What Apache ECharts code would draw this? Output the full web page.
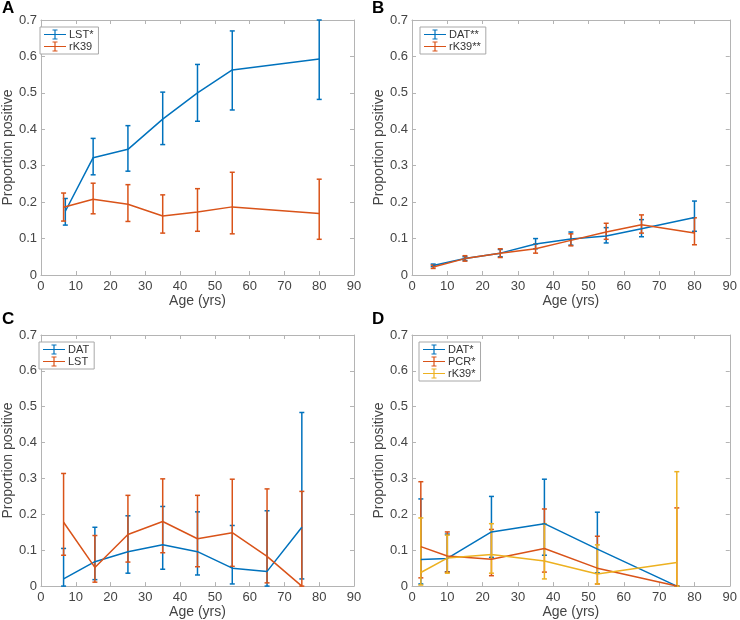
<!DOCTYPE html>
<html><head><meta charset="utf-8">
<script src="https://cdn.jsdelivr.net/npm/echarts@6/dist/echarts.min.js"></script>
<style>html,body{margin:0;padding:0;background:#fff}#c{width:740px;height:620px}</style>
</head><body><div id="c"></div>
<script>
// ---------- Data ----------
const xTicks = [0,10,20,30,40,50,60,70,80,90];
const yTicks = [0,0.1,0.2,0.3,0.4,0.5,0.6,0.7];

// Panel A
const aLST_x    = [7,15,25,35,45,55,80];
const aLST_mean = [0.175,0.322,0.345,0.428,0.500,0.563,0.593];
const aLST_lo   = [0.137,0.275,0.285,0.358,0.422,0.453,0.482];
const aLST_hi   = [0.210,0.375,0.410,0.502,0.578,0.670,0.700];
const aRK_x     = [6.5,15,25,35,45,55,80];
const aRK_mean  = [0.186,0.208,0.194,0.162,0.173,0.187,0.169];
const aRK_lo    = [0.148,0.168,0.147,0.115,0.120,0.113,0.098];
const aRK_hi    = [0.225,0.252,0.248,0.220,0.237,0.282,0.263];

// Panel B
const bX        = [6,15,25,35,45,55,65,80];
const bDAT_mean = [0.026,0.045,0.060,0.085,0.099,0.107,0.127,0.158];
const bDAT_lo   = [0.023,0.040,0.050,0.072,0.082,0.088,0.105,0.120];
const bDAT_hi   = [0.030,0.050,0.070,0.100,0.118,0.130,0.152,0.203];
const bRK_mean  = [0.022,0.045,0.060,0.072,0.095,0.118,0.138,0.115];
const bRK_lo    = [0.018,0.038,0.048,0.060,0.080,0.098,0.115,0.083];
const bRK_hi    = [0.027,0.053,0.072,0.085,0.113,0.142,0.165,0.157];

// Panel C
const cX        = [6.5,15.5,25,35,45,55,65,75];
const cDAT_mean = [0.020,0.068,0.096,0.115,0.096,0.050,0.041,0.164];
const cDAT_lo   = [0.000,0.018,0.036,0.047,0.031,0.006,0.000,0.020];
const cDAT_hi   = [0.105,0.164,0.196,0.222,0.207,0.169,0.210,0.484];
const cLST_mean = [0.178,0.052,0.144,0.180,0.132,0.149,0.083,0.000];
const cLST_lo   = [0.086,0.011,0.067,0.093,0.054,0.055,0.009,0.000];
const cLST_hi   = [0.314,0.141,0.253,0.299,0.253,0.298,0.271,0.264];

// Panel D
const dX        = [2.5,10,22.5,37.5,52.5,75];
const dDAT_mean = [0.074,0.077,0.151,0.174,0.103,0.000];
const dDAT_lo   = [0.006,0.040,0.080,0.086,0.037,0.000];
const dDAT_hi   = [0.243,0.145,0.250,0.298,0.206,0.000];
const dPCR_mean = [0.110,0.084,0.075,0.105,0.050,0.000];
const dPCR_lo   = [0.023,0.039,0.029,0.039,0.006,0.000];
const dPCR_hi   = [0.291,0.151,0.158,0.215,0.139,0.218];
const dRK_mean  = [0.038,0.078,0.088,0.070,0.034,0.066];
const dRK_lo    = [0.003,0.036,0.036,0.020,0.006,0.000];
const dRK_hi    = [0.190,0.142,0.174,0.174,0.115,0.319];

// ---------- Styling ----------
const BLUE = '#0072BD', ORANGE = '#D95319', YELLOW = '#EDB120';
const FONT = '"Liberation Sans", Arial, Helvetica, sans-serif';
const AXC = '#b4b4b4', LBL = '#444444';
const ICON = 'path://M0,4.4H22V5.6H0Z M10.4,0H11.6V10H10.4Z M8.5,0H13.5V1H8.5Z M8.5,9H13.5V10H8.5Z';

const grids = [
  {left:32,  top:20,  width:322, height:255},
  {left:412, top:20,  width:321, height:255},
  {left:32,  top:335, width:322, height:254},
  {left:412, top:335, width:322, height:254}
];

const xAxes = [], yAxes = [];
for (let g = 0; g < 4; g++) {
  xAxes.push({
    type:'value', gridIndex:g, min:xTicks[0], max:xTicks[xTicks.length-1], interval:10,
    name:'Age (yrs)', nameLocation:'middle', nameGap:15,
    nameTextStyle:{fontFamily:FONT, fontSize:14, color:LBL},
    axisLine:{show:true, onZero:false, lineStyle:{color:AXC, width:1}},
    axisTick:{show:true, inside:true, length:4, lineStyle:{color:AXC}},
    axisLabel:{fontFamily:FONT, fontSize:13, color:LBL, margin:5},
    splitLine:{show:false}
  });
  yAxes.push({
    type:'value', gridIndex:g, min:yTicks[0], max:yTicks[yTicks.length-1], interval:0.1,
    name:'Proportion positive', nameLocation:'middle', nameGap:21,
    nameTextStyle:{fontFamily:FONT, fontSize:14, color:LBL},
    axisLine:{show:true, onZero:false, lineStyle:{color:AXC, width:1}},
    axisTick:{show:true, inside:true, length:4, lineStyle:{color:AXC}},
    axisLabel:{fontFamily:FONT, fontSize:13, color:LBL, margin:4},
    splitLine:{show:false}
  });
}
for (let g = 0; g < 4; g++) {
  xAxes.push({
    type:'value', gridIndex:g, position:'top', min:0, max:90, interval:10,
    axisLine:{show:true, onZero:false, lineStyle:{color:AXC, width:1}},
    axisTick:{show:true, inside:true, length:4, lineStyle:{color:AXC}},
    axisLabel:{show:false}, splitLine:{show:false}
  });
  yAxes.push({
    type:'value', gridIndex:g, position:'right', min:0, max:0.7, interval:0.1,
    axisLine:{show:true, onZero:false, lineStyle:{color:AXC, width:1}},
    axisTick:{show:true, inside:true, length:4, lineStyle:{color:AXC}},
    axisLabel:{show:false}, splitLine:{show:false}
  });
}

const series = [];
function addSet(g, name, color, xs, mean, lo, hi) {
  series.push({
    type:'line', name:name, xAxisIndex:g, yAxisIndex:g,
    data: xs.map((x,i)=>[x, mean[i]]),
    showSymbol:false, symbol:'none', lineStyle:{color:color, width:1.5},
    itemStyle:{color:color}, animation:false, z:3
  });
  series.push({
    type:'custom', name:name, xAxisIndex:g, yAxisIndex:g,
    data: xs.map((x,i)=>[x, lo[i], hi[i]]),
    encode:{x:0, y:[1,2]},
    renderItem:function(params, api){
      const x = api.value(0);
      const p1 = api.coord([x, api.value(1)]);
      const p2 = api.coord([x, api.value(2)]);
      const w = 2.5;
      const st = {stroke:color, lineWidth:1.5, fill:null};
      return {type:'group', children:[
        {type:'line', shape:{x1:p1[0], y1:p1[1], x2:p2[0], y2:p2[1]}, style:st},
        {type:'line', shape:{x1:p1[0]-w, y1:p1[1], x2:p1[0]+w, y2:p1[1]}, style:st},
        {type:'line', shape:{x1:p2[0]-w, y1:p2[1], x2:p2[0]+w, y2:p2[1]}, style:st}
      ]};
    },
    animation:false, z:3
  });
}
addSet(0, 'LST*',   BLUE,   aLST_x, aLST_mean, aLST_lo, aLST_hi);
addSet(0, 'rK39',   ORANGE, aRK_x,  aRK_mean,  aRK_lo,  aRK_hi);
addSet(1, 'DAT**',  BLUE,   bX, bDAT_mean, bDAT_lo, bDAT_hi);
addSet(1, 'rK39**', ORANGE, bX, bRK_mean,  bRK_lo,  bRK_hi);
addSet(2, 'DAT',    BLUE,   cX, cDAT_mean, cDAT_lo, cDAT_hi);
addSet(2, 'LST',    ORANGE, cX, cLST_mean, cLST_lo, cLST_hi);
addSet(3, 'DAT*',   BLUE,   dX, dDAT_mean, dDAT_lo, dDAT_hi);
addSet(3, 'PCR*',   ORANGE, dX, dPCR_mean, dPCR_lo, dPCR_hi);
addSet(3, 'rK39*',  YELLOW, dX, dRK_mean,  dRK_lo,  dRK_hi);

function mkLegend(names, left, top) {
  return {
    data: names.map(n=>({name:n, icon:ICON})),
    left:left, top:top, orient:'vertical', itemGap:1,
    itemWidth:22, itemHeight:10, padding:[2,5,2,4],
    borderColor:'#a8a8a8', borderWidth:1, backgroundColor:'#fff',
    selectedMode:false,
    textStyle:{fontFamily:FONT, fontSize:11, color:'#333', padding:[0,0,0,-2]}
  };
}

const titles = [
  {text:'A', left:2, top:0},
  {text:'B', left:372, top:0},
  {text:'C', left:2, top:311},
  {text:'D', left:372, top:311}
].map(t=>Object.assign(t, {padding:0, textStyle:{fontFamily:FONT, fontSize:17, fontWeight:'bold', color:'#000'}}));

const chart = echarts.init(document.getElementById('c'), null, {renderer:'canvas'});
chart.setOption({
  animation:false,
  backgroundColor:'#fff',
  title: titles,
  grid: grids,
  xAxis: xAxes,
  yAxis: yAxes,
  legend: [
    mkLegend(['LST*','rK39'], 40, 27),
    mkLegend(['DAT**','rK39**'], 420, 27),
    mkLegend(['DAT','LST'], 39, 342),
    mkLegend(['DAT*','PCR*','rK39*'], 419, 342)
  ],
  series: series
});
</script>
</body></html>
